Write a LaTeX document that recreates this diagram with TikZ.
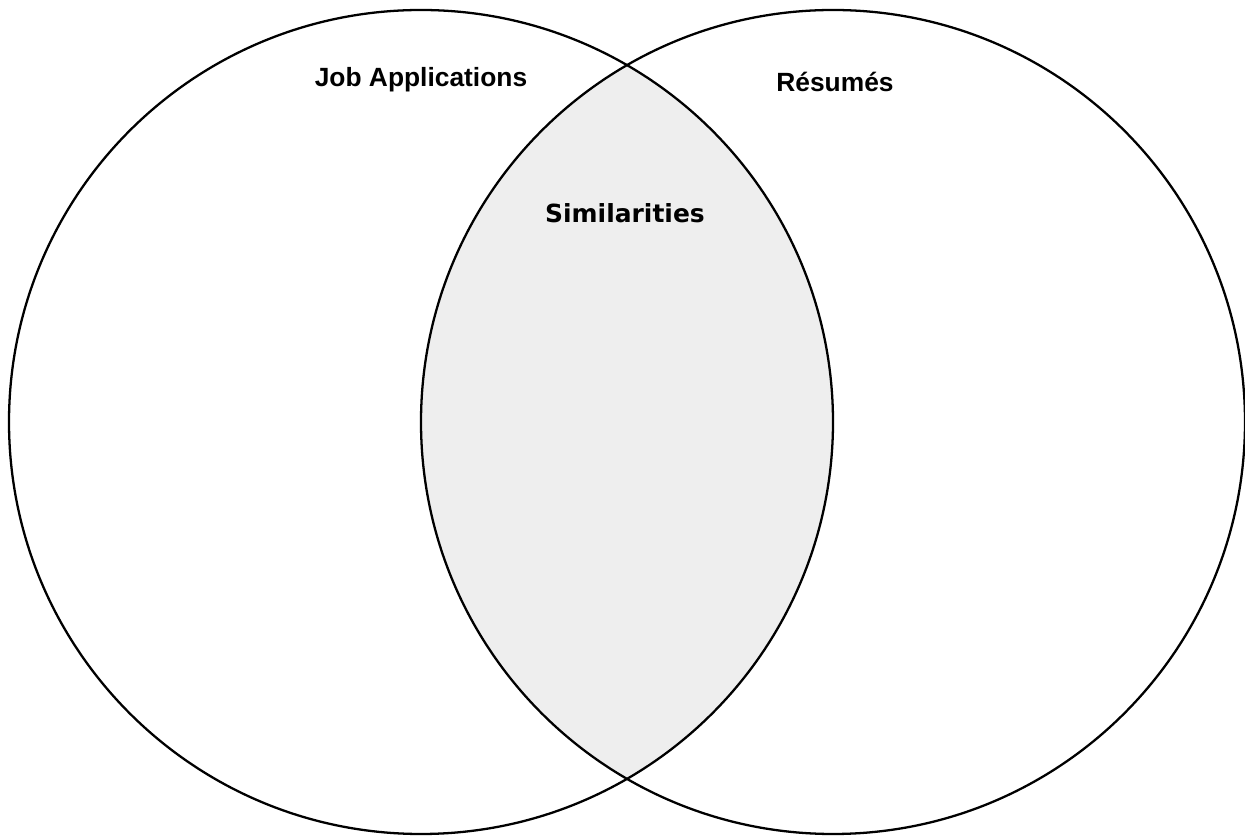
\documentclass[tikz,border=0pt]{standalone}
\usepackage{fontspec}
\setmainfont{Liberation Sans}
\newfontfamily\heavyfont{DejaVu Sans}
\usepackage{tikz}
\usetikzlibrary{positioning}

\definecolor{lensgray}{RGB}{238,238,238}

\begin{document}
\begin{tikzpicture}[
    setline/.style={draw=black, line width=1.3pt},
    setlabel/.style={font=\fontsize{15}{18}\selectfont\bfseries, inner sep=0pt},
    lenslabel/.style={font=\heavyfont\fontsize{14.2}{17}\selectfont\bfseries, inner sep=0pt}
]
    \useasboundingbox (0,0) rectangle (24.9,16.74);

    \coordinate (appsc) at (8.42,8.30);
    \coordinate (resc) at (16.66,8.30);

    % shaded overlap
    \begin{scope}
        \clip (appsc) circle (8.24);
        \fill[lensgray] (resc) circle (8.24);
    \end{scope}

    \draw[setline] (appsc) circle (8.24);
    \draw[setline] (resc) circle (8.24);

    \node[setlabel] (apps) at (8.42,15.14) {Job Applications};
    \node[setlabel] (res) at (16.70,15.10) {Résumés};
    \node[lenslabel] (sim) at (12.50,12.48) {Similarities};
\end{tikzpicture}
\end{document}
